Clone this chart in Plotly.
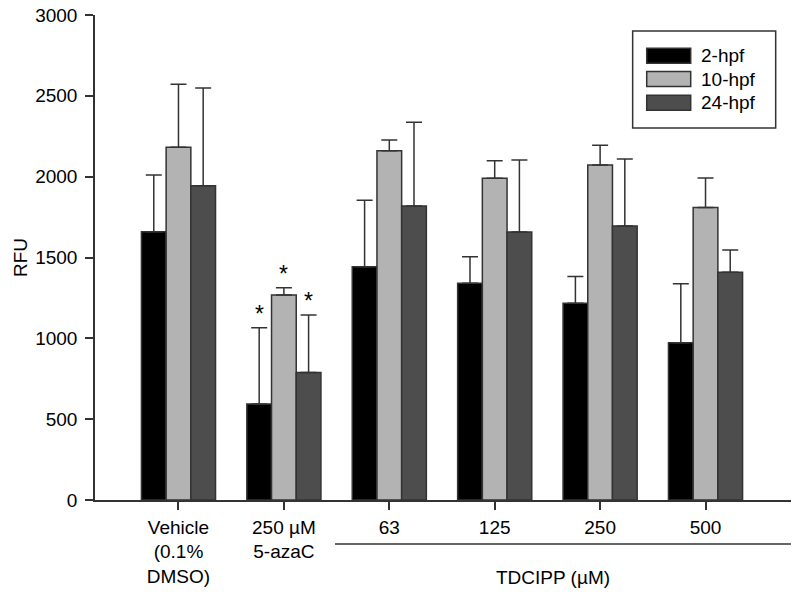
import plotly.graph_objects as go

# ---- data ----
groups = ["Vehicle<br>(0.1%<br>DMSO)", "250 µM<br>5-azaC", "63", "125", "250", "500"]
series = ["2-hpf", "10-hpf", "24-hpf"]
mean_2hpf = [1660, 594, 1443, 1340, 1217, 973]
sd_2hpf = [350, 472, 411, 165, 165, 365]
mean_10hpf = [2182, 1268, 2161, 1990, 2072, 1810]
sd_10hpf = [389, 45, 66, 109, 122, 182]
mean_24hpf = [1944, 788, 1819, 1658, 1695, 1408]
sd_24hpf = [605, 356, 517, 445, 414, 139]
# significance markers: (group index, series index)
significant = [(1, 0), (1, 1), (1, 2)]
y_ticks = [0, 500, 1000, 1500, 2000, 2500, 3000]

colors = ["#000000", "#b3b3b3", "#4d4d4d"]
means = [mean_2hpf, mean_10hpf, mean_24hpf]
sds = [sd_2hpf, sd_10hpf, sd_24hpf]

FONT = "Liberation Sans, Arial, sans-serif"
FS = 19
EDGE = "#333333"

x = list(range(len(groups)))
bargap = 0.297
bar_w = (1 - bargap) / len(series)

fig = go.Figure()
for name, m, s, c in zip(series, means, sds, colors):
    fig.add_bar(
        x=x, y=m, name=name,
        marker=dict(color=c, line=dict(color=EDGE, width=1.5)),
        error_y=dict(type="data", array=s, arrayminus=[0] * len(s), symmetric=False,
                     color=EDGE, thickness=1.5, width=8),
        showlegend=False,
    )

annotations = []
for gi, si in significant:
    off = (si - (len(series) - 1) / 2) * bar_w
    annotations.append(dict(
        x=gi + off, y=means[si][gi] + sds[si][gi], xref="x", yref="y",
        text="*", showarrow=False, yanchor="bottom", yshift=-1,
        font=dict(family=FONT, size=23, color="#000"),
    ))

# TDCIPP grouping label and line
annotations.append(dict(
    x=3.55, y=-0.159, xref="x", yref="paper", text="TDCIPP (µM)",
    showarrow=False, yanchor="middle", font=dict(family=FONT, size=FS, color="#000"),
))
shapes = [dict(type="line", xref="x", yref="paper", x0=1.485, x1=5.811,
               y0=-0.0907, y1=-0.0907, line=dict(color=EDGE, width=1.5))]

# legend (drawn manually for large swatches)
lx0, lx1, ly0, ly1 = 0.7725, 0.978, 0.767, 0.967
shapes.append(dict(type="rect", xref="paper", yref="paper", x0=lx0, x1=lx1, y0=ly0, y1=ly1,
                   line=dict(color=EDGE, width=1.5), fillcolor="rgba(0,0,0,0)"))
row_y = [0.916, 0.868, 0.819]
hh = 0.0155
for name, c, ry in zip(series, colors, row_y):
    shapes.append(dict(type="rect", xref="paper", yref="paper", x0=0.7927, x1=0.8559,
                       y0=ry - hh, y1=ry + hh, fillcolor=c, line=dict(color=EDGE, width=1.5)))
    annotations.append(dict(x=0.8674, y=ry, xref="paper", yref="paper", text=name,
                            showarrow=False, xanchor="left", yanchor="middle",
                            font=dict(family=FONT, size=FS, color="#000")))

fig.update_layout(
    width=800, height=592,
    margin=dict(l=95, r=9, t=15, b=92),
    paper_bgcolor="white", plot_bgcolor="white",
    barmode="group", bargap=bargap, bargroupgap=0,
    font=dict(family=FONT, size=FS, color="#000"),
    annotations=annotations, shapes=shapes,
    xaxis=dict(
        range=[-0.792, 5.811], tickvals=x, ticktext=groups, automargin=False,
        showline=True, linecolor=EDGE, linewidth=1.5,
        ticks="outside", ticklen=8, tickwidth=1.5, tickcolor=EDGE,
        showgrid=False, zeroline=False, ticklabelstandoff=1,
        tickfont=dict(family=FONT, size=FS, color="#000"),
    ),
    yaxis=dict(
        range=[0, 3000], tickvals=y_ticks, automargin=False,
        showline=True, linecolor=EDGE, linewidth=1.5,
        ticks="outside", ticklen=8, tickwidth=1.5, tickcolor=EDGE,
        showgrid=False, zeroline=False, ticklabelstandoff=4,
        tickfont=dict(family=FONT, size=FS, color="#000"),
        title=dict(text="RFU", standoff=3, font=dict(family=FONT, size=FS, color="#000")),
    ),
)

fig.write_html("out.html", config={"displayModeBar": False},
               post_script="document.body.style.margin='0px';")
